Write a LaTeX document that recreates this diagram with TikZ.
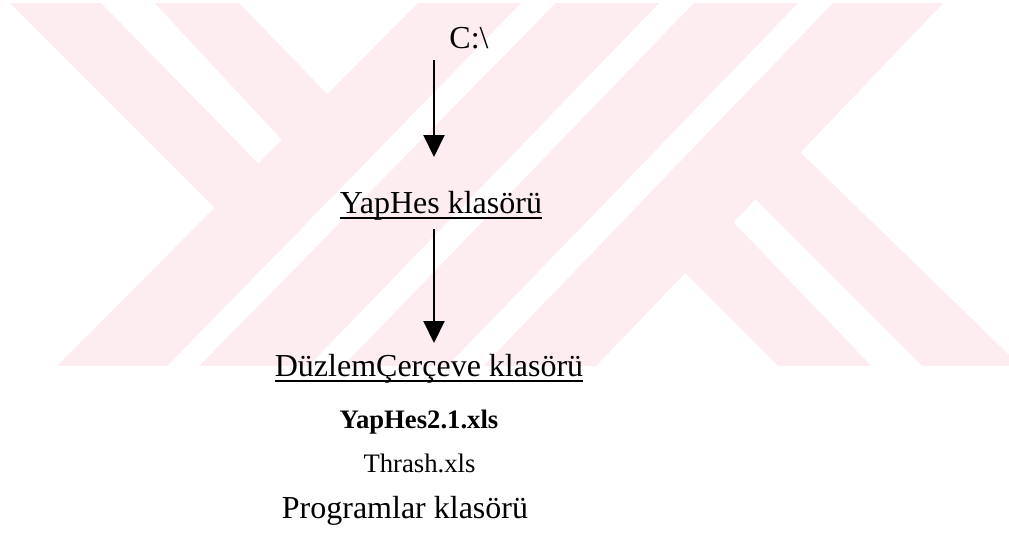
\documentclass[tikz,border=0pt]{standalone}
\usepackage{fontspec}
\setmainfont{Liberation Serif}
\usetikzlibrary{arrows.meta}
\definecolor{wm}{RGB}{253,237,240}
\begin{document}
\begin{tikzpicture}[x=0.75pt,y=-0.75pt,
  big/.style={font=\fontsize{24}{28}\selectfont, inner sep=0pt, anchor=base},
  small/.style={font=\fontsize{20}{24}\selectfont, inner sep=0pt, anchor=base},
  conn/.style={line width=1.5pt, -{Triangle[width=15.75pt,length=16.5pt]}},
  uline/.style={line width=1pt},
  band/.style={fill=wm}]
\useasboundingbox (0,0) rectangle (1009,537);
\fill[white] (0,0) rectangle (1009,537);
% watermark
\begin{scope}
\clip (0,3) rectangle (1009,365);
\fill[band] (430.9,-10) -- (533.75,-10) -- (153.5,380) -- (43.3,380) -- cycle;
\fill[band] (568.8,-10) -- (671.7,-10) -- (294.9,380) -- (185.5,380) -- cycle;
\fill[band] (706.7,-10) -- (810.7,-10) -- (433.5,380) -- (329.5,380) -- cycle;
\fill[band] (845.6,-10) -- (955.6,-10) -- (582.7,380) -- (470.1,380) -- cycle;
\fill[band] (-3,-10) -- (88.2,-10) -- (311.5,217.9) -- (268.8,261.8) -- cycle;
\fill[band] (142.7,-10) -- (226.3,-10) -- (379.6,148.1) -- (333.6,195.3) -- cycle;
\fill[band] (698.6,142.6) -- (742.9,96.6) -- (1034.8,380) -- (936,380) -- cycle;
\fill[band] (628,216) -- (677.7,164.3) -- (884.8,380) -- (792,380) -- cycle;
\end{scope}
% texts
\node[big] (c) at (469,48) {C:\textbackslash};
\node[big] (yh) at (441,213) {YapHes klasörü};
\node[big] (dc) at (429,376) {DüzlemÇerçeve klasörü};
\node[small, font=\fontsize{20}{24}\selectfont\bfseries] (yx) at (419,428) {YapHes2.1.xls};
\node[small] (th) at (419.5,472) {Thrash.xls};
\node[big] (pr) at (405,518) {Programlar klasörü};
% underlines
\draw[uline] ([yshift=-3.75pt]yh.base west) -- ([yshift=-3.75pt]yh.base east);
\draw[uline] ([yshift=-3.75pt]dc.base west) -- ([yshift=-3.75pt]dc.base east);
% arrows
\coordinate (a1s) at (434,60);
\coordinate (a1e) at (434,157);
\coordinate (a2s) at (434,229);
\coordinate (a2e) at (434,343);
\draw[conn] (a1s) -- (a1e);
\draw[conn] (a2s) -- (a2e);
\end{tikzpicture}
\end{document}
